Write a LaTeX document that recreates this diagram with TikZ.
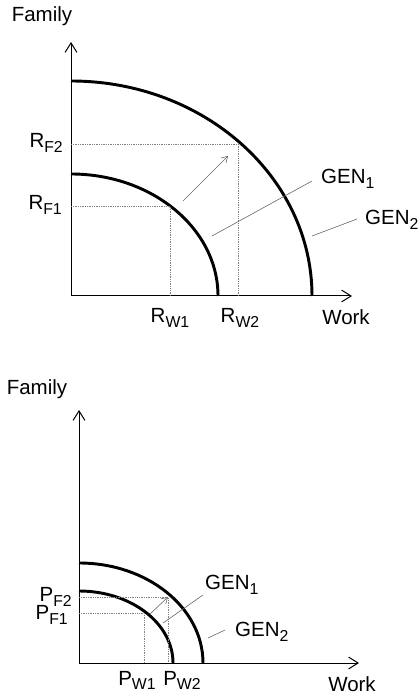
\documentclass[tikz,border=0pt]{standalone}
\usepackage{fontspec}
\setmainfont{Liberation Sans}
\usetikzlibrary{arrows.meta}
\newcommand{\lowsub}[1]{\raisebox{-4.2pt}{\fontsize{13.5}{14}\selectfont #1}}

\begin{document}
\begin{tikzpicture}[
    x=0.03cm, y=0.03cm,
    every node/.style={font=\fontsize{17.5}{20}\selectfont, inner sep=0pt},
    axis/.style={line width=0.85pt, -{Straight Barb[length=8pt, width=10pt, line width=0.85pt]}},
    curve/.style={line width=2.5pt},
    guideline/.style={densely dotted, line width=0.5pt, gray},
    leader/.style={line width=0.5pt, gray!80!black},
    shiftarrow/.style={leader, -{Straight Barb[length=5pt, width=6pt, line width=0.5pt]}}
]
\useasboundingbox (0,0) rectangle (420,697);

% TOP PANEL
\coordinate (o1) at (71,401);
\coordinate (y1) at (71,655);
\coordinate (x1) at (352,401);
\draw[axis] (o1) -- (y1);
\draw[axis] (o1) -- (x1);

\node[anchor=base] (fam1)  at (42,675)  {Family};
\node[anchor=base] (work1) at (346,372) {Work};

\draw[curve] (71,616) arc[start angle=90, end angle=0, x radius=241, y radius=215];
\draw[curve] (71,523) arc[start angle=90, end angle=0, x radius=147, y radius=122];

\coordinate (rf2) at (71,553);  \coordinate (q2) at (238,553); \coordinate (rw2) at (238,401);
\coordinate (rf1) at (71,491);  \coordinate (q1) at (170,491); \coordinate (rw1) at (170,401);
\draw[guideline] (rf2) -- (q2) -- (rw2);
\draw[guideline] (rf1) -- (q1) -- (rw1);

\node[anchor=mid east] (lrf2) at (63,553) {R\lowsub{F2}};
\node[anchor=mid east] (lrf1) at (62,491) {R\lowsub{F1}};
\node[anchor=base] (lrw1) at (170,374) {R\lowsub{W1}};
\node[anchor=base] (lrw2) at (240,374) {R\lowsub{W2}};

\coordinate (s1a) at (183,496); \coordinate (s1b) at (228,541);
\draw[shiftarrow] (s1a) -- (s1b);

\node[anchor=base west] (gen1a) at (321,513) {GEN\lowsub{1}};
\node[anchor=base west] (gen2a) at (365,472) {GEN\lowsub{2}};
\coordinate (g1a) at (212,461); \coordinate (g1b) at (312,516);
\coordinate (g2a) at (312,461); \coordinate (g2b) at (357,478);
\draw[leader] (g1a) -- (g1b);
\draw[leader] (g2a) -- (g2b);

% BOTTOM PANEL
\coordinate (o2) at (79,34);
\coordinate (y2) at (79,287);
\coordinate (x2) at (359,34);
\draw[axis] (o2) -- (y2);
\draw[axis] (o2) -- (x2);

\node[anchor=base] (fam2)  at (37,302) {Family};
\node[anchor=base] (work2) at (352,5)  {Work};

\draw[curve] (79,134) arc[start angle=90, end angle=0, x radius=124, y radius=100];
\draw[curve] (79,106) arc[start angle=90, end angle=0, x radius=94, y radius=72];

\coordinate (pf2) at (79,99.5); \coordinate (t2) at (168,99.5); \coordinate (pw2) at (168,34);
\coordinate (pf1) at (79,84);   \coordinate (t1) at (144,84);   \coordinate (pw1) at (144,34);
\draw[guideline] (pf2) -- (t2) -- (pw2);
\draw[guideline] (pf1) -- (t1) -- (pw1);

\node[anchor=mid east] (lpf2) at (72,99) {P\lowsub{F2}};
\node[anchor=mid east] (lpf1) at (68,81) {P\lowsub{F1}};
\node[anchor=base] (lpw1) at (137,12) {P\lowsub{W1}};
\node[anchor=base] (lpw2) at (182,12) {P\lowsub{W2}};

\coordinate (s2a) at (150,83); \coordinate (s2b) at (168,100);
\draw[shiftarrow] (s2a) -- (s2b);

\node[anchor=base west] (gen1b) at (205,107) {GEN\lowsub{1}};
\node[anchor=base west] (gen2b) at (235,60)  {GEN\lowsub{2}};
\coordinate (h1a) at (163,74);  \coordinate (h1b) at (203,102);
\coordinate (h2a) at (208,59);  \coordinate (h2b) at (225,67);
\draw[leader] (h1a) -- (h1b);
\draw[leader] (h2a) -- (h2b);

\end{tikzpicture}
\end{document}
